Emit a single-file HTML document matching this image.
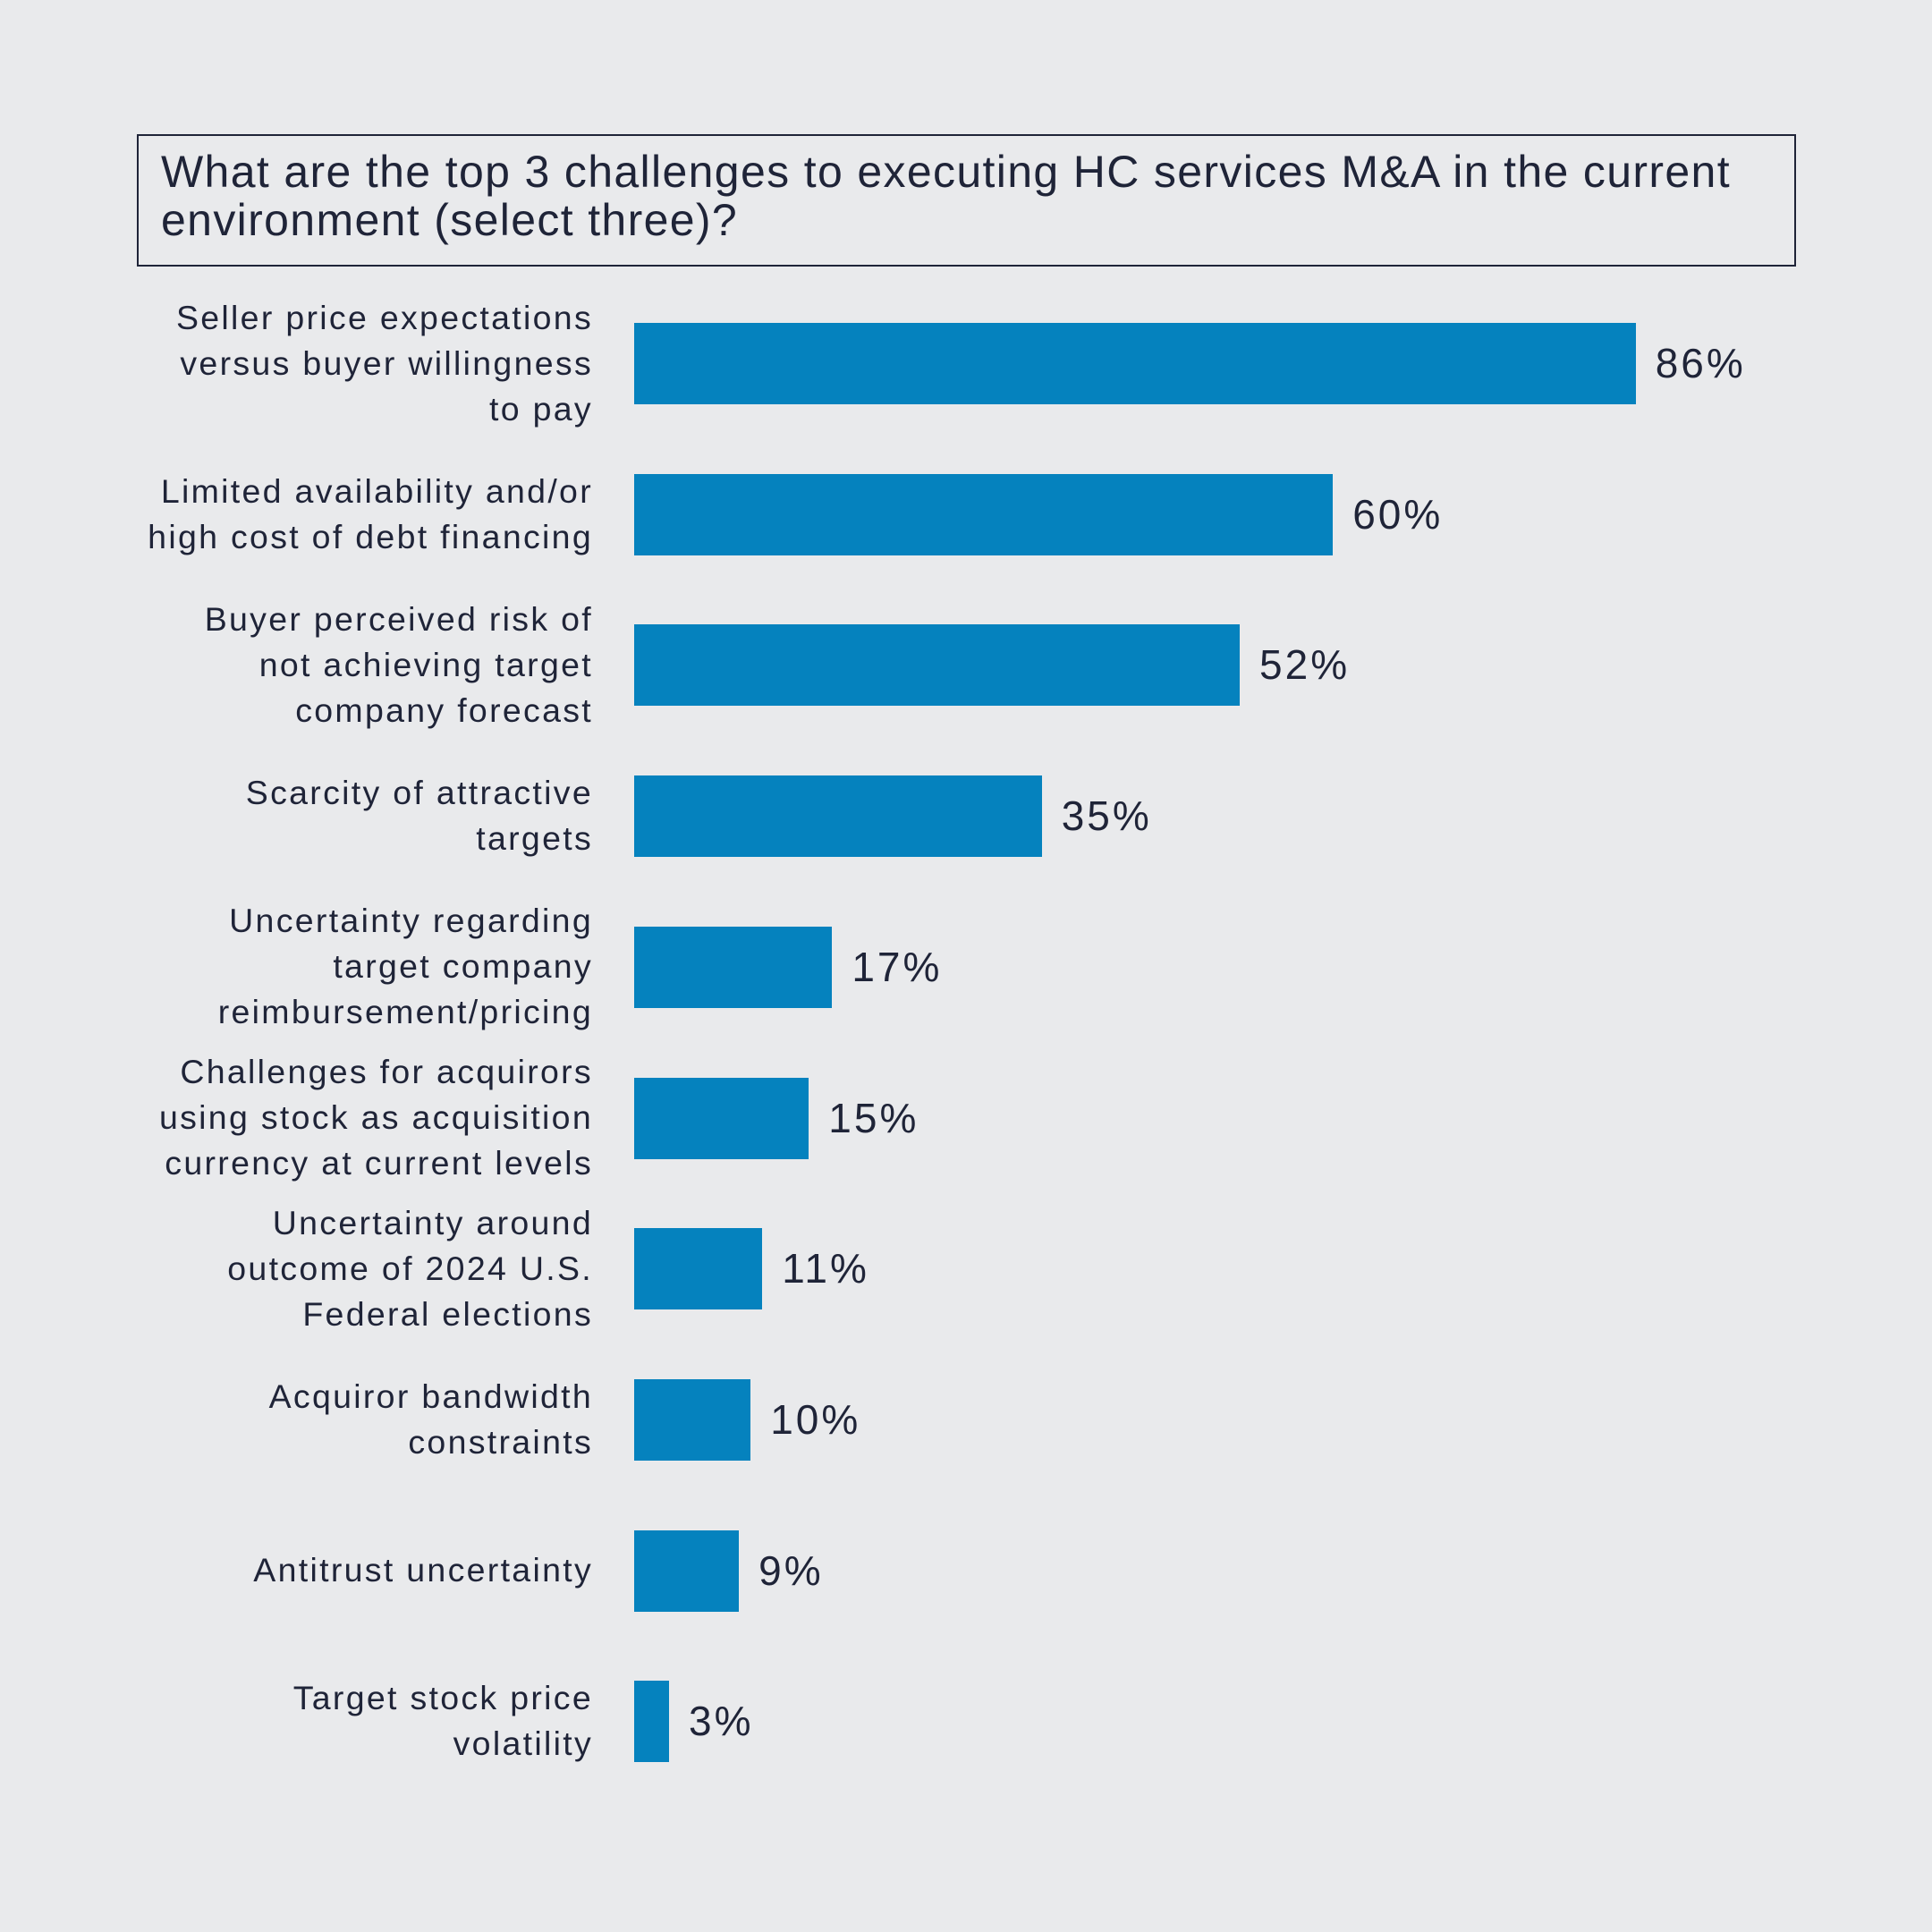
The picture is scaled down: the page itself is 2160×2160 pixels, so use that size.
<!DOCTYPE html>
<html><head><meta charset="utf-8"><style>
*{margin:0;padding:0;box-sizing:border-box}
body{width:2160px;height:2160px;background:#e9eaec;font-family:"Liberation Sans",Arial,sans-serif;color:#1f2438;position:relative;overflow:hidden}
.title{position:absolute;left:153px;top:150px;width:1855px;height:148px;border:2px solid #1f2438;padding:13px 0 0 25px;font-size:50px;line-height:54px;letter-spacing:1.35px}
.lab{position:absolute;left:0;width:663px;height:200px;display:flex;align-items:center;justify-content:flex-end;text-align:right;font-size:37.5px;line-height:51px;letter-spacing:2.3px}
.bar{position:absolute;left:709px;height:91px;background:#0582be}
.val{position:absolute;font-size:46px;line-height:91px;letter-spacing:3px}
</style></head><body>
<div class="title">What are the top 3 challenges to executing HC services M&amp;A in the current environment (select three)?</div>
<script>
const d=[["Seller price expectations<br>versus buyer willingness<br>to pay",86],["Limited availability and/or<br>high cost of debt financing",60],["Buyer perceived risk of<br>not achieving target<br>company forecast",52],["Scarcity of attractive<br>targets",35],["Uncertainty regarding<br>target company<br>reimbursement/pricing",17],["Challenges for acquirors<br>using stock as acquisition<br>currency at current levels",15],["Uncertainty around<br>outcome of 2024 U.S.<br>Federal elections",11],["Acquiror bandwidth<br>constraints",10],["Antitrust uncertainty",9],["Target stock price<br>volatility",3]];
let h="";
d.forEach((r,i)=>{const c=406+i*168.7;const w=r[1]*13.02;
h+=`<div class="lab" style="top:${c-100}px">${r[0]}</div><div class="bar" style="top:${c-45}px;width:${w}px"></div><div class="val" style="top:${c-45}px;left:${709+w+22}px">${r[1]}%</div>`;});
document.write(h);
</script>
</body></html>
